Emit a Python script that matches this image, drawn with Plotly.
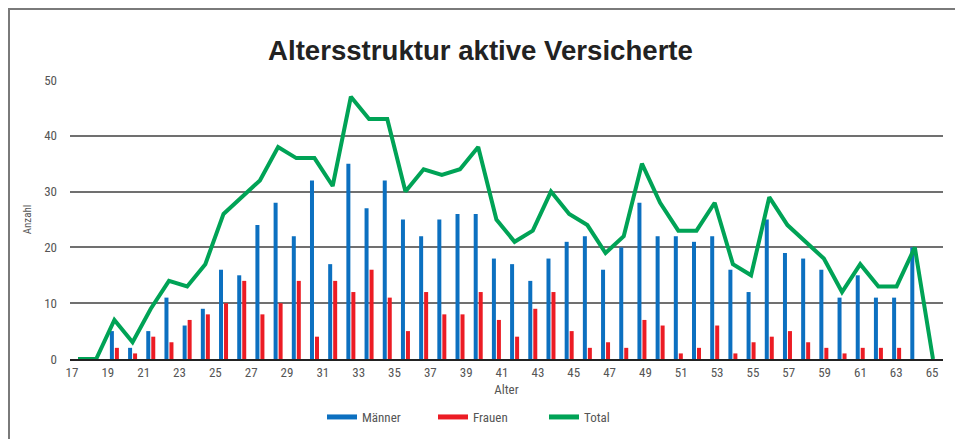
import plotly.graph_objects as go

# Altersstruktur der aktiven Versicherten (Anzahl je Alter)

alter_balken = list(range(20, 65))
alter_total = list(range(18, 66))

maenner = [5, 2, 5, 11, 6, 9, 16, 15, 24, 28,
           22, 32, 17, 35, 27, 32, 25, 22, 25, 26,
           26, 18, 17, 14, 18, 21, 22, 16, 20, 28,
           22, 22, 21, 22, 16, 12, 25, 19, 18, 16,
           11, 15, 11, 11, 20]

frauen = [2, 1, 4, 3, 7, 8, 10, 14, 8, 10,
          14, 4, 14, 12, 16, 11, 5, 12, 8, 8,
          12, 7, 4, 9, 12, 5, 2, 3, 2, 7,
          6, 1, 2, 6, 1, 3, 4, 5, 3, 2,
          1, 2, 2, 2, 0]

total = [0, 0,
         7, 3, 9, 14, 13, 17, 26, 29, 32, 38,
         36, 36, 31, 47, 43, 43, 30, 34, 33, 34,
         38, 25, 21, 23, 30, 26, 24, 19, 22, 35,
         28, 23, 23, 28, 17, 15, 29, 24, 21, 18,
         12, 17, 13, 13, 20,
         0]

tick_labels = [str(a) for a in range(17, 66, 2)]

BLAU = "#0C70C0"
ROT = "#EC1C24"
GRUEN = "#00A356"
GRAU_TEXT = "#555555"
SCHRIFT = "Liberation Sans Narrow, Roboto Condensed, DejaVu Sans Condensed, Arial Narrow, Roboto, sans-serif"

# the printed labels sit on a slightly tighter scale than the data
tick_pos = [17.67 + i * 0.985 * 2 for i in range(len(tick_labels))]

# page body adds an 8px offset, so the figure is a bit smaller than the window
W, H = 955, 431
PL, PT, PW, PH = 62, 72, 873, 279

fig = go.Figure()

fig.add_trace(go.Bar(x=alter_balken, y=maenner, name="Männer",
                     marker=dict(color=BLAU, line=dict(width=0)), showlegend=False))
fig.add_trace(go.Bar(x=alter_balken, y=frauen, name="Frauen",
                     marker=dict(color=ROT, line=dict(width=0)), showlegend=False))
fig.add_trace(go.Scatter(x=alter_total, y=total, name="Total", mode="lines",
                         line=dict(color=GRUEN, width=4), showlegend=False))

# legend entries drawn as short thick bars like in the original
for name, col in [("Männer", BLAU), ("Frauen", ROT), ("Total", GRUEN)]:
    fig.add_trace(go.Scatter(x=[None], y=[None], mode="lines", name=name,
                             line=dict(color=col, width=5)))

fig.update_layout(
    width=W, height=H,
    margin=dict(l=PL, r=W - PL - PW, t=PT, b=H - PT - PH, autoexpand=False),
    paper_bgcolor="white", plot_bgcolor="white",
    barmode="group", bargap=0.45, bargroupgap=0.2,
    title=dict(text="<b>Altersstruktur aktive Versicherte</b>",
               x=472.5 / W, xref="container", xanchor="center",
               y=1 - 42 / H, yref="container", yanchor="middle",
               font=dict(family="Liberation Sans, Arial, sans-serif", size=27.6, color="#222222")),
    font=dict(family=SCHRIFT, size=13, color=GRAU_TEXT),
    legend=dict(orientation="h", x=(314 - PL) / PW, xanchor="left", y=-58 / PH, yanchor="middle",
                font=dict(size=13, color=GRAU_TEXT), entrywidth=66, itemwidth=30),
    xaxis=dict(range=[17.56, 65.55], tickmode="array", tickvals=tick_pos, ticktext=tick_labels,
               showgrid=False, zeroline=False, showline=True, linecolor="#222222", linewidth=2,
               ticks="", tickfont=dict(size=13, color=GRAU_TEXT),
               title=dict(text="Alter", standoff=6, font=dict(size=13, color=GRAU_TEXT))),
    yaxis=dict(range=[0, 50], dtick=10, showgrid=True, gridcolor="#707070", gridwidth=2,
               zeroline=False, showline=False, ticks="", ticklabelstandoff=12,
               tickfont=dict(size=13, color=GRAU_TEXT),
               title=dict(text="Anzahl", standoff=10, font=dict(size=11, color=GRAU_TEXT))),
)

# frame around the whole graphic (left/top edges as close to the page edge as possible)
fig.add_shape(type="rect", xref="paper", yref="paper",
              x0=(1 - PL) / PW, x1=(950 - PL) / PW,
              y0=-(H - PT - PH + 5) / PH, y1=(PT - 1) / PH + 1,
              line=dict(color="#7a7a7a", width=2), fillcolor="rgba(0,0,0,0)", layer="below")

fig.write_html("out.html")
